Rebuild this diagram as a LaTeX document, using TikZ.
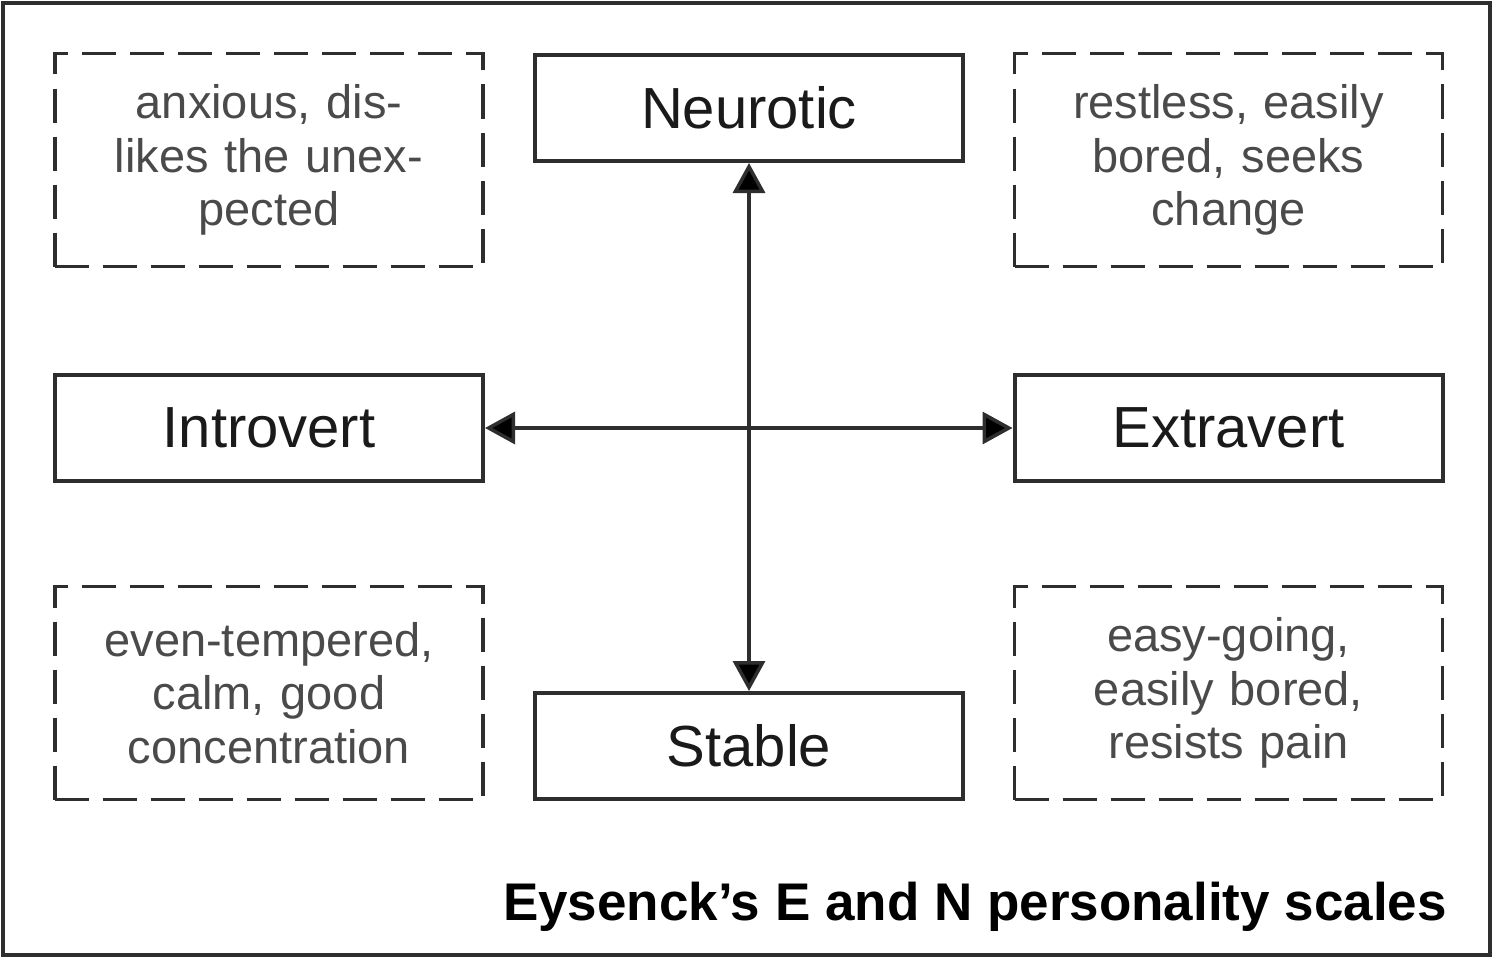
\documentclass[tikz,border=0pt]{standalone}
\usepackage{fontspec}
\setmainfont{Liberation Sans}
\usetikzlibrary{arrows.meta}
\definecolor{edge}{HTML}{2E2E2E}
\definecolor{maintext}{HTML}{1A1A1A}
\definecolor{softtext}{HTML}{4A4A4A}
\begin{document}
\begin{tikzpicture}[x=1pt,y=-1pt,
  solidbox/.style={draw=edge,line width=4pt,minimum width=428pt,minimum height=106pt,
    inner sep=0pt,text=maintext,font=\fontsize{58}{64}\selectfont},
  dashbox/.style={draw=edge,line width=3.5pt,dash pattern=on 34pt off 14pt,minimum width=428pt,
    minimum height=213pt,inner sep=0pt,text=softtext,align=center,text width=410pt,
    font=\fontsize{47}{53.5}\selectfont},
  axis/.style={draw=edge,line width=3.5pt,{Triangle[length=30pt,width=32pt,fill=black]}-{Triangle[length=30pt,width=32pt,fill=black]}}]
\useasboundingbox (0,0) rectangle (1494,958);
\draw[edge,line width=4.5pt] (3,3) rectangle (1490,955);
\node[dashbox] (tl) at (269,160) {anxious, dis-\\likes the unex-\\pected};
\node[solidbox] (neu) at (749,108) {Neurotic};
\node[dashbox] (tr) at (1228.5,160) {restless, easily\\bored, seeks\\change};
\node[solidbox] (intro) at (269,428) {Introvert};
\node[solidbox] (extra) at (1228.5,428) {Extravert};
\node[dashbox] (bl) at (269,693) {even-tempered,\\calm, good\\concentration};
\node[solidbox] (stab) at (749,746) {Stable};
\node[dashbox] (br) at (1228.5,693) {easy-going,\\easily bored,\\resists pain};
\draw[axis] (neu.south) -- (stab.north);
\draw[axis] (intro.east) -- (extra.west);
\node[anchor=base east,inner sep=0pt,text=black,font=\fontsize{53}{60}\selectfont\bfseries] (title) at (1447,920) {Eysenck’s E and N personality scales};
\end{tikzpicture}
\end{document}
